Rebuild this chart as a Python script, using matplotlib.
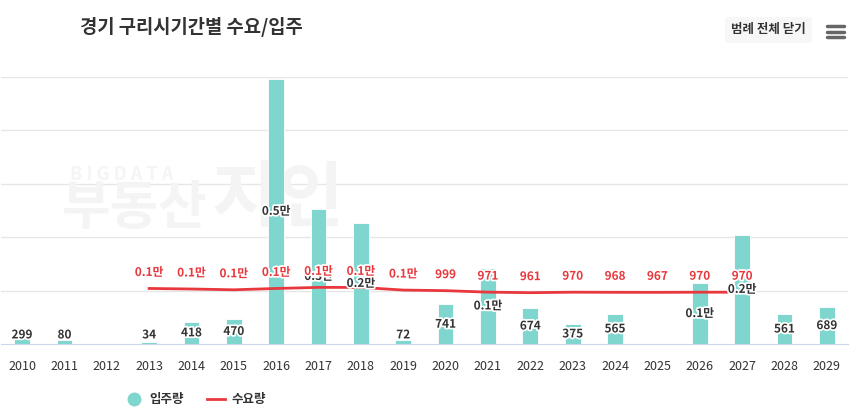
import matplotlib
matplotlib.use("Agg")
import matplotlib.pyplot as plt
import matplotlib.patheffects as pe
from matplotlib.patches import FancyBboxPatch
import numpy as np

plt.rcParams['font.family'] = ['Noto Sans CJK KR', 'DejaVu Sans']

years = [str(y) for y in range(2010, 2030)]
supply = [299, 80, 0, 34, 418, 470, 4970, 2530, 2270, 72,
          741, 1425, 674, 375, 565, 0, 1140, 2045, 561, 689]
demand_years = years[3:18]
demand = [1040, 1030, 1015, 1040, 1060, 1060, 1010,
          999, 971, 961, 970, 968, 967, 970, 970]

bar_color = '#7fd6cf'
line_color = '#e8383d'
text_color = '#333333'


def fmt(v):
    if v >= 1000:
        return '%.1f만' % (v / 10000)
    return str(v)


fig = plt.figure(figsize=(8.54, 4.13), dpi=100)
ax = fig.add_axes([0.001, (413 - 344) / 413, 0.992, 267 / 413])
x = np.arange(len(years))

# faint watermark, drawn under the bars
ax.text(70 / 854, 1 - 175 / 413, 'B I G D A T A', fontsize=13, color='#f5f5f5',
        fontweight='bold', va='center', ha='left', zorder=1,
        transform=fig.transFigure)
ax.text(62 / 854, 1 - 208 / 413, '부동산', fontsize=38, color='#f4f4f4',
        fontweight='bold', va='center', ha='left', zorder=1,
        transform=fig.transFigure)
ax.text(212 / 854, 1 - 200 / 413, '지인', fontsize=52, color='#f4f4f4',
        fontweight='bold', va='center', ha='left', zorder=1,
        transform=fig.transFigure)

ax.set_xlim(-0.5, len(years) - 0.5)
ax.set_ylim(0, 5000)
ax.set_yticks([1000, 2000, 3000, 4000, 5000])
ax.yaxis.grid(True, color='#e6e6e6', linewidth=1)
ax.set_axisbelow(True)
ax.tick_params(axis='y', left=False, labelleft=False)
ax.tick_params(axis='x', bottom=False, labelsize=9, colors=text_color, pad=8)
for s in ['top', 'right', 'left']:
    ax.spines[s].set_visible(False)
ax.spines['bottom'].set_color('#ccd6eb')
ax.patch.set_alpha(0)

ax.bar(x, supply, width=0.37, color=bar_color, edgecolor='white', linewidth=0.6,
       zorder=2, label='입주량')

stroke = [pe.withStroke(linewidth=2.5, foreground='white')]
for xi, v in zip(x, supply):
    if v <= 0:
        continue
    y = max(v / 2, 170)
    ax.text(xi, y, fmt(v), ha='center', va='center', fontsize=8.5,
            fontweight='bold', color=text_color, path_effects=stroke, zorder=4)

dx = np.arange(3, 18)
ax.plot(dx, demand, color=line_color, linewidth=2, zorder=3, label='수요량')
for xi, v in zip(dx, demand):
    ax.text(xi, v + 300, fmt(v), ha='center', va='center', fontsize=8.5,
            fontweight='bold', color=line_color, path_effects=stroke, zorder=5)

ax.set_xticks(x)
ax.set_xticklabels(years)

fig.text(80 / 854, 1 - 27 / 413, '경기 구리시기간별 수요/입주', fontsize=13.5,
         fontweight='bold', color=text_color, va='center', ha='left')

# legend close button and menu icon
btn = FancyBboxPatch((725 / 854, 1 - 43 / 413), 87 / 854, 26 / 413,
                     boxstyle='round,pad=0,rounding_size=0.005',
                     transform=fig.transFigure, facecolor='#f7f7f7',
                     edgecolor='none')
fig.patches.append(btn)
fig.text(768 / 854, 1 - 30 / 413, '범례 전체 닫기', fontsize=9,
         fontweight='bold', color=text_color, va='center', ha='center')
for yy in [26, 31.5, 37]:
    fig.add_artist(plt.Line2D([827 / 854, 844 / 854], [1 - yy / 413] * 2,
                              transform=fig.transFigure, color='#666666',
                              linewidth=2.5, solid_capstyle='round'))

# legend
fig.add_artist(plt.Line2D([134 / 854], [1 - 399 / 413], transform=fig.transFigure,
                          marker='o', markersize=9, color=bar_color, linestyle='none'))
fig.text(149 / 854, 1 - 399 / 413, '입주량', fontsize=9, fontweight='bold',
         color=text_color, va='center', ha='left')
fig.add_artist(plt.Line2D([207 / 854, 225 / 854], [1 - 399 / 413] * 2,
                          transform=fig.transFigure, color=line_color, linewidth=2))
fig.text(232 / 854, 1 - 399 / 413, '수요량', fontsize=9, fontweight='bold',
         color=text_color, va='center', ha='left')

fig.savefig('out.png', dpi=100)
